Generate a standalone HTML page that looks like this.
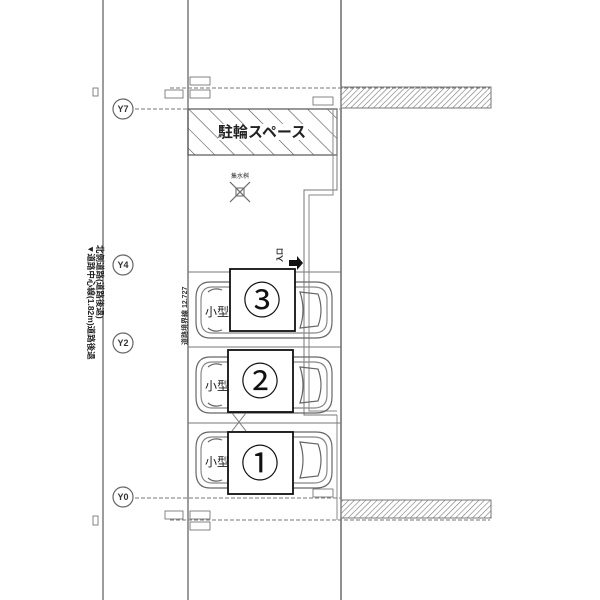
<!DOCTYPE html>
<html><head><meta charset="utf-8"><style>
html,body{margin:0;padding:0;background:#fff;}
svg{display:block;font-family:"Liberation Sans","Noto Sans CJK JP",sans-serif;}
</style></head><body>
<svg width="600" height="600" viewBox="0 0 600 600" xmlns="http://www.w3.org/2000/svg">
<defs>
<pattern id="h1" width="14" height="14" patternUnits="userSpaceOnUse" patternTransform="rotate(-45)">
<line x1="0" y1="0" x2="0" y2="14" stroke="#555" stroke-width="1.2"/></pattern>
<pattern id="h2" width="4" height="4" patternUnits="userSpaceOnUse" patternTransform="rotate(45)">
<line x1="0" y1="0" x2="0" y2="4" stroke="#777" stroke-width="1.2"/></pattern>
<g id="car" fill="none" stroke="#666" stroke-width="1.2">
<path d="M14 0 L120 0 Q136 0 136 16 L136 40 Q136 56 120 56 L14 56 Q0 56 0 40 L0 16 Q0 0 14 0Z"/>
<path d="M16 5 L118 5 Q131 5 131 18 L131 38 Q131 51 118 51 L16 51 Q5 51 5 38 L5 18 Q5 5 16 5Z" stroke="#888"/>
<path d="M104 10 L122 12 Q128 28 122 44 L104 46 Q110 28 104 10Z"/>
<path d="M12 10 Q18 5 26 8 M12 46 Q18 51 26 48"/>
</g>
</defs>
<line x1="103" y1="0" x2="103" y2="600" stroke="#666" stroke-width="1.3"/>
<line x1="188" y1="0" x2="188" y2="600" stroke="#666" stroke-width="1.3"/>
<line x1="341" y1="0" x2="341" y2="600" stroke="#555" stroke-width="1.3"/>
<line x1="337" y1="415" x2="337" y2="520" stroke="#888" stroke-width="1"/>
<line x1="170" y1="88" x2="490" y2="88" stroke="#777" stroke-dasharray="4,2" stroke-width="1.1"/>
<line x1="135" y1="109" x2="340" y2="109" stroke="#777" stroke-dasharray="4,2" stroke-width="1.1"/>
<line x1="135" y1="498" x2="340" y2="498" stroke="#777" stroke-dasharray="4,2" stroke-width="1.1"/>
<line x1="170" y1="520" x2="490" y2="520" stroke="#777" stroke-dasharray="4,2" stroke-width="1.1"/>
<rect x="188" y="109" width="149" height="46" fill="url(#h1)" stroke="#555" stroke-width="1.2"/>
<rect x="218" y="124" width="90" height="16" fill="#fff"/>
<text x="262" y="137" font-size="15" text-anchor="middle" fill="#222" font-weight="bold">駐輪スペース</text>
<rect x="341" y="87" width="150" height="21" fill="url(#h2)" stroke="#777"/>
<rect x="341" y="500" width="150" height="18" fill="url(#h2)" stroke="#777"/>
<path d="M337 109 L337 190 L304 190 L304 415 L337 415" fill="none" stroke="#777" stroke-width="1"/>
<path d="M333 109 L333 195 L309 195 L309 411 L337 411" fill="none" stroke="#888" stroke-width="1"/>
<text x="240" y="178" font-size="6" text-anchor="middle" fill="#333">集水桝</text>
<g stroke="#666" stroke-width="1.2"><line x1="230" y1="182" x2="250" y2="202"/><line x1="250" y1="182" x2="230" y2="202"/></g>
<rect x="236" y="188" width="8" height="8" fill="none" stroke="#666"/>
<path d="M289 260 L297 260 L297 256 L303 263 L297 270 L297 266 L289 266Z" fill="#111"/>
<text x="282" y="262" font-size="7" fill="#222" font-weight="bold" transform="rotate(-90 282 262)">入口</text>
<line x1="188" y1="272" x2="341" y2="272" stroke="#777"/>
<line x1="188" y1="347" x2="341" y2="347" stroke="#777"/>
<line x1="188" y1="423" x2="341" y2="423" stroke="#777"/>
<use href="#car" x="196" y="282"/>
<use href="#car" x="196" y="357"/>
<use href="#car" x="196" y="432"/>
<text x="205" y="316" font-size="12" fill="#222">小型</text>
<text x="205" y="390" font-size="12" fill="#222">小型</text>
<text x="205" y="466" font-size="12" fill="#222">小型</text>
<rect x="230" y="269" width="65" height="62" fill="#fff" stroke="#111" stroke-width="1.8"/>
<text x="262" y="314" font-size="38" text-anchor="middle" fill="#111">③</text>
<rect x="228" y="350" width="65" height="62" fill="#fff" stroke="#111" stroke-width="1.8"/>
<text x="260" y="395" font-size="38" text-anchor="middle" fill="#111">②</text>
<rect x="228" y="432" width="65" height="62" fill="#fff" stroke="#111" stroke-width="1.8"/>
<text x="260" y="477" font-size="38" text-anchor="middle" fill="#111">①</text>
<g stroke="#777"><line x1="232" y1="413" x2="246" y2="431"/><line x1="246" y1="413" x2="232" y2="431"/></g>
<g font-size="9" font-weight="bold" text-anchor="middle" fill="#333">
<circle cx="123" cy="109" r="10" fill="#fff" stroke="#666" stroke-width="1.2"/><text x="123" y="112">Y7</text>
<circle cx="123" cy="265" r="10" fill="#fff" stroke="#666" stroke-width="1.2"/><text x="123" y="268">Y4</text>
<circle cx="123" cy="343" r="10" fill="#fff" stroke="#666" stroke-width="1.2"/><text x="123" y="346">Y2</text>
<circle cx="123" cy="497" r="10" fill="#fff" stroke="#666" stroke-width="1.2"/><text x="123" y="500">Y0</text>
</g>
<g fill="#fff" stroke="#666" stroke-width="0.8">
<rect x="165" y="90" width="18" height="8"/><rect x="190" y="77" width="20" height="8"/><rect x="190" y="90" width="20" height="8"/>
<rect x="313" y="97" width="20" height="8"/><rect x="313" y="489" width="20" height="8"/>
<rect x="165" y="511" width="18" height="8"/><rect x="190" y="511" width="20" height="8"/><rect x="190" y="522" width="20" height="8"/>
<rect x="93" y="88" width="5" height="8"/><rect x="93" y="516" width="5" height="9"/>
</g>
<text x="88" y="245" font-size="8.5" font-weight="bold" fill="#222" transform="rotate(90 88 245)">▼道路中心線(1.82m)道路後退</text>
<text x="97" y="245" font-size="8.5" font-weight="bold" fill="#222" transform="rotate(90 97 245)">北側道路(道路後退)</text>
<text x="187" y="345" font-size="7" font-weight="bold" fill="#333" transform="rotate(-90 187 345)">道路境界線 12.727</text>
</svg>
</body></html>
